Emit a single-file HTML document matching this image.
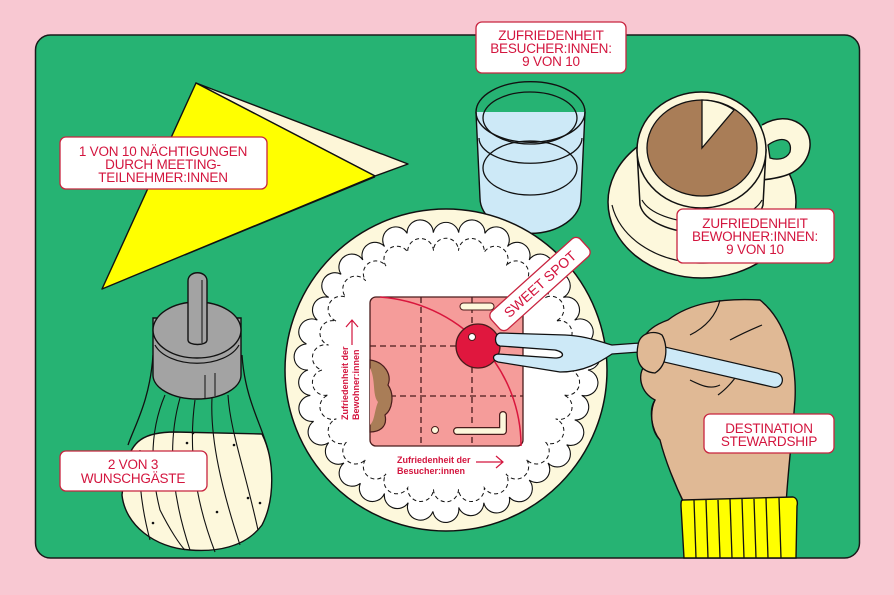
<!DOCTYPE html>
<html><head><meta charset="utf-8"><style>
html,body{margin:0;padding:0;background:#f8c8d2;}
svg{display:block}
text{font-family:"Liberation Sans",sans-serif;fill:#d3153e;}
.lb{fill:#fff;stroke:#c8243f;stroke-width:1.3}
.t{font-size:13.5px;text-anchor:middle;letter-spacing:-0.2px}
</style></head><body>
<svg width="894" height="595" viewBox="0 0 894 595" xmlns="http://www.w3.org/2000/svg">
<rect x="0" y="0" width="894" height="595" fill="#f8c8d2"/>
<rect x="35.5" y="35" width="824" height="523" rx="15" fill="#26b373" stroke="#1a1a1a" stroke-width="1.5"/>

<!-- napkin -->
<polygon points="196,83 408,164 375,176" fill="#fdf6d8" stroke="#111" stroke-width="1.4" stroke-linejoin="round"/>
<polygon points="196,83 375,176 102,289" fill="#ffff00" stroke="#111" stroke-width="1.4" stroke-linejoin="round"/>
<polyline points="375,177 185,255" fill="none" stroke="#111" stroke-width="1"/>

<!-- glass -->
<path d="M476,112 L480,198 A50,35 0 0 0 581,198 L585,112 Z" fill="#cde9f7"/>
<path d="M476,112 A54,30 0 0 1 585,112 A54,30 0 0 1 476,112 Z" fill="none" stroke="#111" stroke-width="1.4"/>
<ellipse cx="530" cy="118" rx="47" ry="26" fill="none" stroke="#111" stroke-width="1.3"/>
<path d="M476,112 L480,198 A50,35 0 0 0 581,198 L585,112" fill="none" stroke="#111" stroke-width="1.4"/>
<path d="M483,168 A47,27 0 0 1 577,168 A47,27 0 0 1 483,168" fill="none" stroke="#111" stroke-width="1.3"/>
<path d="M479,138 A51,25 0 0 0 582,138" fill="none" stroke="#111" stroke-width="1.3"/>

<!-- saucer & cup -->
<ellipse cx="702" cy="202" rx="94" ry="76" fill="#fdf8dc" stroke="#111" stroke-width="1.5"/>
<path d="M612,205 A92,70 0 0 0 790,215" fill="none" stroke="#111" stroke-width="1.2"/>
<path d="M762,125 C790,108 818,128 808,155 C800,175 780,178 762,180" fill="#fdf8dc" stroke="#111" stroke-width="1.5"/>
<path d="M768,145 C780,136 793,138 790,152 C786,160 776,160 770,158 Z" fill="#26b373" stroke="#111" stroke-width="1.3"/>
<path d="M637,150 L640,205 A62,32 0 0 0 763,205 L766,150 Z" fill="#fdf8dc" stroke="#111" stroke-width="1.5"/>
<path d="M642,200 A62,30 0 0 0 762,200" fill="none" stroke="#111" stroke-width="1.2"/>
<ellipse cx="701.5" cy="150" rx="64.5" ry="58" fill="#fdf8dc" stroke="#111" stroke-width="1.5"/>
<ellipse cx="702" cy="148" rx="55" ry="48" fill="#a97d57" stroke="#111" stroke-width="1.3"/>
<path d="M702,148 L702,100 A55,48 0 0 1 734,110 Z" fill="#fdf8dc" stroke="#111" stroke-width="1.3"/>

<!-- plate -->
<circle cx="446" cy="370" r="161" fill="#fdf8dc" stroke="#111" stroke-width="1.5"/>
<path id="doily" fill="#fff" stroke="#111" stroke-width="1.1" d=""/>
<path id="doily2" fill="none" stroke="#111" stroke-width="1" stroke-dasharray="4 3" d=""/>
<circle cx="446" cy="370" r="112" fill="#fff"/>

<!-- cake -->
<rect x="370" y="297" width="153" height="149" rx="6" fill="#f59c9a" stroke="#4a1c1c" stroke-width="1.3"/>
<g stroke="#4a1c1c" stroke-width="1.3" stroke-dasharray="6 4">
<line x1="421" y1="297" x2="421" y2="446"/><line x1="472" y1="297" x2="472" y2="446"/>
<line x1="370" y1="346" x2="523" y2="346"/><line x1="370" y1="396" x2="523" y2="396"/>
</g>
<path d="M380,297 A152,149 0 0 1 521,446" fill="none" stroke="#d9163d" stroke-width="1.5"/>
<path d="M370,360 C385,362 392,375 388,385 C395,395 392,410 385,415 C388,428 378,432 370,432 Z" fill="#a97d57" stroke="#4a1c1c" stroke-width="1.2"/>
<path d="M370,368 C376,380 372,395 378,402 C374,412 375,420 370,425 Z" fill="#f59c9a"/>
<rect x="460" y="303" width="34" height="7" rx="3.5" fill="#fdf8dc" stroke="#4a1c1c" stroke-width="1"/>
<path d="M457,431 L503,431 L503,415" fill="none" stroke="#4a1c1c" stroke-width="8" stroke-linecap="round" stroke-linejoin="round"/>
<path d="M457,431 L503,431 L503,415" fill="none" stroke="#fdf8dc" stroke-width="5.5" stroke-linecap="round" stroke-linejoin="round"/>
<circle cx="435" cy="430" r="3.5" fill="#fdf8dc" stroke="#4a1c1c" stroke-width="1"/>
<circle cx="478" cy="346" r="22" fill="#e0173e" stroke="#4a1c1c" stroke-width="1.3"/>
<circle cx="472" cy="337" r="3.5" fill="#fff" stroke="#4a1c1c" stroke-width="1"/>

<!-- axis labels -->
<text x="397" y="463" style="font-size:9px;font-weight:bold">Zufriedenheit der</text>
<text x="397" y="474" style="font-size:9px;font-weight:bold">Besucher:innen</text>
<path d="M476,462 L503,462 M496,456 L503,462 L496,468" fill="none" stroke="#d3153e" stroke-width="1.2"/>
<g transform="translate(348,420) rotate(-90)"><text x="0" y="0" style="font-size:9px;font-weight:bold">Zufriedenheit der</text><text x="0" y="11" style="font-size:9px;font-weight:bold">Bewohner:innen</text></g>
<path d="M352,345 L352,320 M346,327 L352,320 L358,327" fill="none" stroke="#d3153e" stroke-width="1.2"/>

<!-- sweet spot -->
<g transform="translate(540,284) rotate(-42)">
<rect x="-60" y="-12" width="120" height="24" rx="6" fill="#fff" stroke="#c8243f" stroke-width="1.3"/>
<text x="0" y="5" style="font-size:14px;text-anchor:middle">SWEET SPOT</text>
</g>

<!-- fork -->
<path d="M500,333 L565,335 C585,336 595,340 612,345 L640,343 L640,352 L612,354 C600,362 585,372 560,372 L498,362 C492,360 492,355 498,354 L555,358 C565,358 565,352 555,350 L500,346 C494,345 494,334 500,333 Z" fill="#cde9f7" stroke="#111" stroke-width="1.3" stroke-linejoin="round"/>

<!-- hand -->
<path d="M668,320 C690,303 720,298 760,300 C785,320 797,360 795,400 C792,440 788,470 786,505 L685,505 C675,485 665,460 660,440 C650,430 650,410 655,400 C640,392 637,375 645,365 C638,345 640,330 668,320 Z" fill="#e0b995" stroke="#111" stroke-width="1.4"/>
<path d="M720,300 C715,320 700,330 690,335 M730,340 C745,332 755,328 762,325 M690,380 C700,385 710,390 720,385 M718,395 C725,390 735,380 740,370" fill="none" stroke="#111" stroke-width="1.2"/>
<path d="M645,350 L775,380" stroke="#111" stroke-width="16" stroke-linecap="round"/>
<path d="M645,350 L775,380" stroke="#cde9f7" stroke-width="13.5" stroke-linecap="round"/>
<path d="M660,345 L640,343" stroke="#cde9f7" stroke-width="8"/>
<path d="M655,373 C640,372 635,360 638,345 C640,332 655,330 662,335 C668,345 668,365 655,373 Z" fill="#e0b995" stroke="#111" stroke-width="1.3"/>
<path d="M660,440 C652,430 648,410 655,400" fill="none" stroke="#111" stroke-width="1.2"/>
<!-- sleeve -->
<path d="M683,500 L793,497 C797,498 798,502 797,506 L796,558 L684,558 L681,506 C681,502 681,500 683,500 Z" fill="#ffff00" stroke="#111" stroke-width="1.4"/>
<g stroke="#111" stroke-width="1.3">
<line x1="694" y1="500" x2="696" y2="558"/><line x1="706" y1="500" x2="708" y2="558"/><line x1="718" y1="500" x2="720" y2="558"/><line x1="730" y1="499" x2="732" y2="558"/><line x1="742" y1="499" x2="744" y2="558"/><line x1="754" y1="499" x2="756" y2="558"/><line x1="766" y1="498" x2="768" y2="558"/><line x1="779" y1="498" x2="781" y2="558"/>
</g>

<!-- sugar jar -->
<path d="M125,470 C130,440 145,432 175,432 L262,434 C275,460 275,500 262,525 C245,548 215,552 190,550 C155,548 125,525 122,495 Z" fill="#fdf8dc" stroke="#111" stroke-width="1.4"/>
<path d="M128,445 C135,425 150,400 153,355 M268,450 C262,425 245,400 242,355" fill="none" stroke="#111" stroke-width="1.3"/>
<g fill="none" stroke="#111" stroke-width="1.1">
<path d="M165,395 C150,430 150,470 160,510 C170,530 180,545 185,550"/>
<path d="M180,398 C168,440 170,490 190,550"/>
<path d="M195,400 C188,450 195,500 215,552"/>
<path d="M212,398 C210,440 222,490 240,545"/>
<path d="M228,395 C230,430 245,470 258,530"/>
<path d="M140,450 C138,480 142,510 150,540"/>
</g>
<g fill="#111"><circle cx="193" cy="433" r="1.3"/><circle cx="187" cy="443" r="1.3"/><circle cx="234" cy="445" r="1.3"/><circle cx="248" cy="498" r="1.3"/><circle cx="260" cy="503" r="1.3"/><circle cx="217" cy="512" r="1.3"/><circle cx="153" cy="523" r="1.3"/></g>
<path d="M153,318 L153,375 A44,24 0 0 0 241,375 L241,318 Z" fill="#a3a3a3" stroke="#111" stroke-width="1.4"/>
<ellipse cx="197" cy="330" rx="44" ry="28" fill="#a3a3a3" stroke="#111" stroke-width="1.4"/>
<path d="M155,345 A44,26 0 0 0 239,345" fill="none" stroke="#111" stroke-width="1.2"/>
<path d="M188,281 C188,270 207,270 207,281 L207,340 C207,346 188,346 188,340 Z" fill="#a3a3a3" stroke="#111" stroke-width="1.4"/>
<line x1="202" y1="280" x2="202" y2="343" stroke="#111" stroke-width="1"/>
<line x1="205" y1="375" x2="205" y2="398" stroke="#111" stroke-width="1"/><line x1="215" y1="373" x2="215" y2="396" stroke="#111" stroke-width="1"/>

<!-- labels -->
<rect class="lb" x="60" y="137" width="207" height="52" rx="6"/>
<text class="t" x="163" y="156">1 VON 10 NÄCHTIGUNGEN</text>
<text class="t" x="163" y="169">DURCH MEETING-</text>
<text class="t" x="163" y="182">TEILNEHMER:INNEN</text>

<rect class="lb" x="476" y="22" width="150" height="51" rx="6"/>
<text class="t" x="551" y="40">ZUFRIEDENHEIT</text>
<text class="t" x="551" y="53">BESUCHER:INNEN:</text>
<text class="t" x="551" y="66">9 VON 10</text>

<rect class="lb" x="677" y="209" width="157" height="54" rx="6"/>
<text class="t" x="755" y="228">ZUFRIEDENHEIT</text>
<text class="t" x="755" y="241">BEWOHNER:INNEN:</text>
<text class="t" x="755" y="254">9 VON 10</text>

<rect class="lb" x="704" y="414" width="130" height="39" rx="6"/>
<text class="t" x="769" y="433">DESTINATION</text>
<text class="t" x="769" y="446">STEWARDSHIP</text>

<rect class="lb" x="60" y="451" width="147" height="40" rx="6"/>
<text class="t" x="133" y="469">2 VON 3</text>
<text class="t" x="133" y="483">WUNSCHGÄSTE</text>

<script>
(function(){
 function sc(id,R,n,r){
  var cx=446,cy=370,d="";
  for(var i=0;i<=n;i++){
   var a=i/n*2*Math.PI, rr=R+((i%3==0)?4:0), x=cx+rr*Math.cos(a), y=cy+rr*Math.sin(a);
   if(i==n){x=cx+R+4;y=cy;}
   if(i==0) d+="M"+x.toFixed(1)+","+y.toFixed(1);
   else d+=" A"+r+","+r+" 0 0 1 "+x.toFixed(1)+","+y.toFixed(1);
  }
  document.getElementById(id).setAttribute('d',d+"Z");
 }
 sc('doily',138,34,13);
 sc('doily2',120,30,11);
})();
</script>
</svg>
</body></html>
